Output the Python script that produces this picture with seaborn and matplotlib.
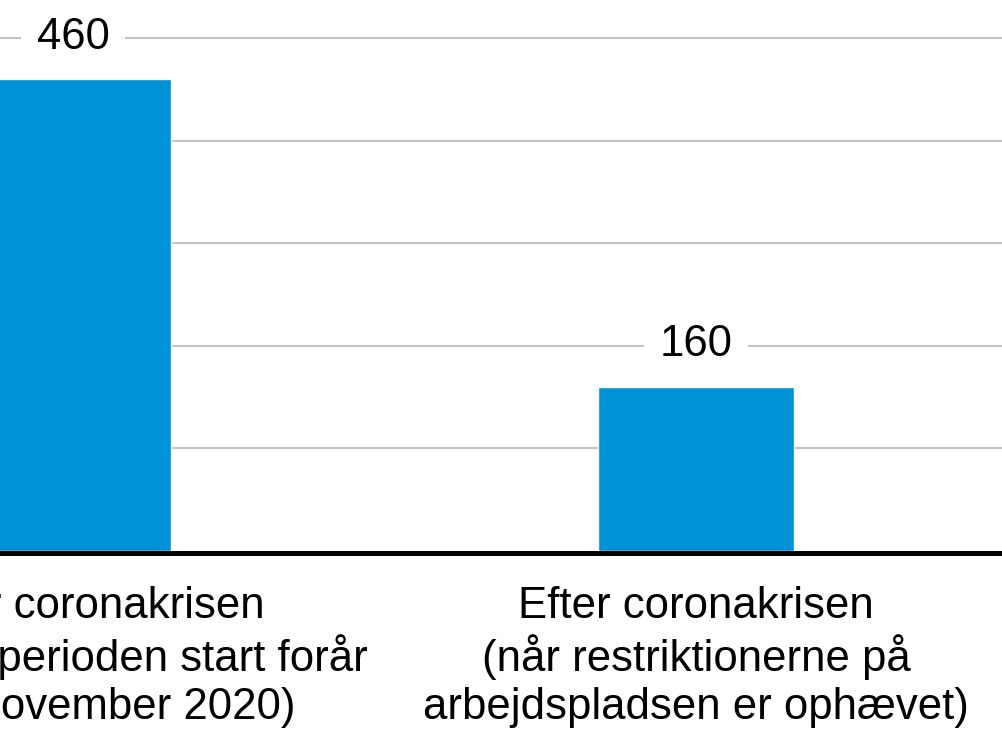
import matplotlib
matplotlib.use("Agg")
import matplotlib.pyplot as plt
import seaborn as sns

# Data
categories = [
    "Under coronakrisen\n(i lockdownperioden start forår\nhelt til november 2020)",
    "Efter coronakrisen\n(når restriktionerne på\narbejdspladsen er ophævet)",
]
values = [460, 160]
grid_ticks = [100, 200, 300, 400, 500]

BAR_COLOR = "#0092D6"
GRID_COLOR = "#C4C4C4"

sns.set_theme(style="white")
plt.rcParams["font.family"] = ["Liberation Sans", "DejaVu Sans"]

W, H = 1002, 729
fig = plt.figure(figsize=(W / 100, H / 100), dpi=100)

# Axes in pixel terms: the plotting area runs wider than the canvas on the left
left_px, right_px = -238.5, 1007.5
bottom_px = H - 550.6
top_px = bottom_px + 615
ax = fig.add_axes([left_px / W, bottom_px / H, (right_px - left_px) / W, (top_px - bottom_px) / H])

sns.barplot(x=categories, y=values, color=BAR_COLOR, saturation=1, width=0.315, ax=ax, zorder=3)

ax.set_xlim(-0.5, 1.5)
ax.set_ylim(0, 600)
ax.set_yticks(grid_ticks)
ax.yaxis.grid(True, color=GRID_COLOR, linewidth=1.5, zorder=0)
ax.set_axisbelow(True)
ax.tick_params(axis="y", left=False, labelleft=False)
ax.tick_params(axis="x", bottom=False, pad=18, labelsize=31.5, labelcolor="black")
for lbl in ax.get_xticklabels():
    lbl.set_linespacing(1.13)
ax.set_xlabel("")
ax.set_ylabel("")

for side in ["top", "left", "right"]:
    ax.spines[side].set_visible(False)
ax.spines["bottom"].set_color("black")
ax.spines["bottom"].set_linewidth(3.6)
ax.spines["bottom"].set_position(("outward", 1.4))

# Value labels above the bars, masking the grid behind them
for patch, v in zip(ax.patches, values):
    cx = patch.get_x() + patch.get_width() / 2
    ax.annotate(
        f"{v}",
        xy=(cx, patch.get_height()),
        xytext=(0, 22),
        textcoords="offset points",
        ha="center",
        va="baseline",
        fontsize=31.5,
        color="black",
        bbox=dict(boxstyle="square,pad=0.36", facecolor="white", edgecolor="none"),
        zorder=4,
    )

fig.savefig("out.png", dpi=100)
